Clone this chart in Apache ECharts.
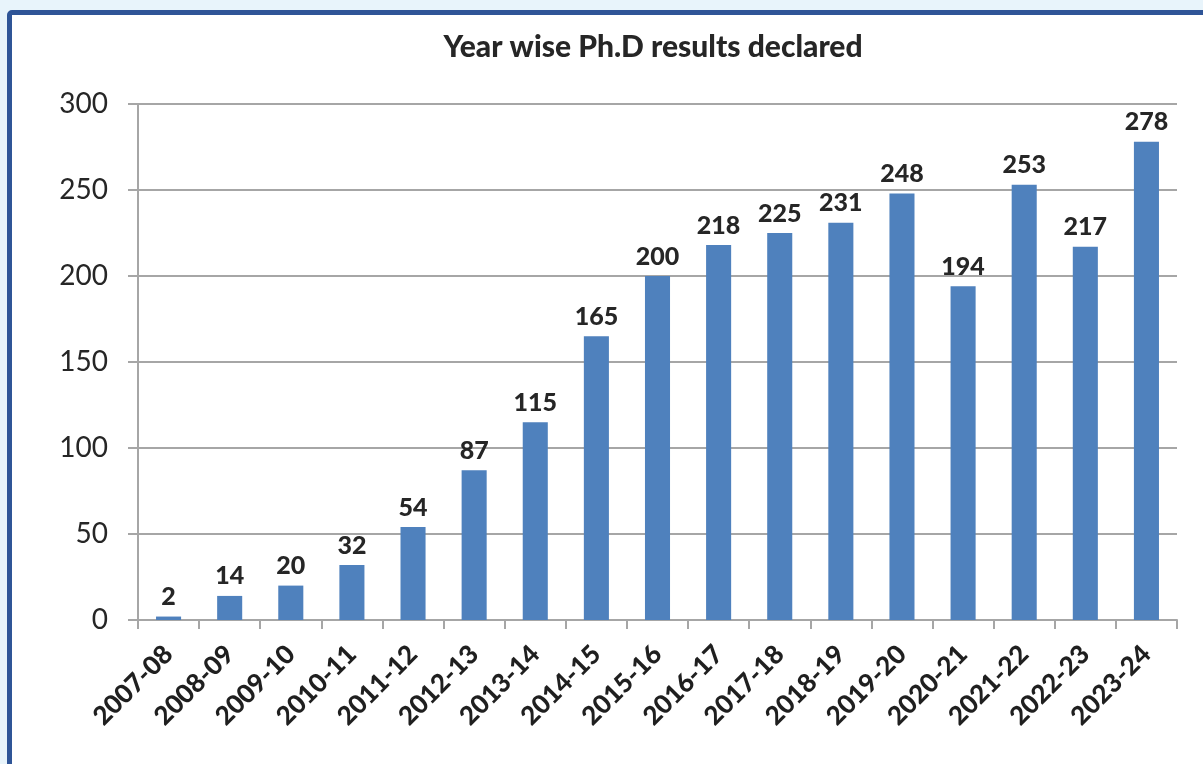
<!DOCTYPE html>
<html><head><meta charset="utf-8">
<script src="https://cdn.jsdelivr.net/npm/echarts@6/dist/echarts.min.js"></script>
<style>
html,body{margin:0;padding:0;background:#e8f4fb;width:1203px;height:764px;overflow:hidden;}
#box{position:absolute;left:7px;top:10px;width:1220px;height:800px;background:#fff;border:5px solid #2f5597;border-radius:5px;}
#chart{position:absolute;left:0;top:0;width:1203px;height:764px;}
</style></head>
<body>
<div id="box"></div>
<div id="chart"></div>
<script>
const categories = ["2007-08","2008-09","2009-10","2010-11","2011-12","2012-13","2013-14","2014-15","2015-16","2016-17","2017-18","2018-19","2019-20","2020-21","2021-22","2022-23","2023-24"];
const values = [2,14,20,32,54,87,115,165,200,218,225,231,248,194,253,217,278];
const yTicks = [0,50,100,150,200,250,300];
const titleText = "Year wise Ph.D results declared";

const FONT = "Lato, 'Open Sans', sans-serif";
const chart = echarts.init(document.getElementById('chart'));
chart.setOption({
  animation:false,
  title:{text:titleText,left:648,top:27,textAlign:'center',textStyle:{fontFamily:FONT,fontSize:30,fontWeight:900,color:'#262626'}},
  grid:{left:138,top:104,right:26,bottom:144,containLabel:false},
  xAxis:{type:'category',data:categories,
    axisLine:{lineStyle:{color:'#a6a6a6',width:2}},
    axisTick:{show:true,length:9,lineStyle:{color:'#a6a6a6',width:2}},
    axisLabel:{rotate:45,interval:0,margin:30,fontFamily:FONT,fontSize:26,fontWeight:900,color:'#1f1f1f'}},
  yAxis:{type:'value',min:yTicks[0],max:yTicks[yTicks.length-1],interval:50,
    axisLine:{show:true,lineStyle:{color:'#a6a6a6',width:2}},
    axisTick:{show:true,length:10,lineStyle:{color:'#a6a6a6',width:2}},
    splitLine:{lineStyle:{color:'#a6a6a6',width:2}},
    axisLabel:{margin:30,fontFamily:FONT,fontSize:28,color:'#262626'}},
  series:[{type:'bar',data:values,barWidth:'41%',
    itemStyle:{color:'#4f81bd'},
    label:{show:true,position:'top',distance:7,fontFamily:FONT,fontSize:25,fontWeight:900,color:'#262626'}}]
});
</script>
</body></html>
